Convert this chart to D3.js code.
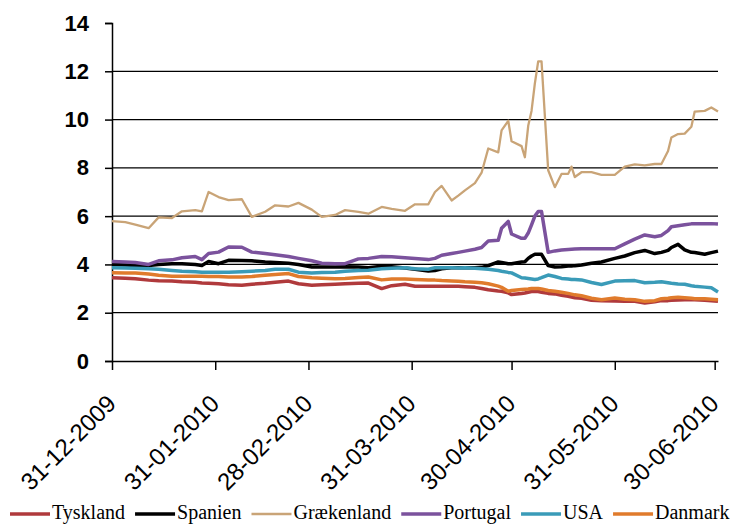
<!DOCTYPE html>
<html>
<head>
<meta charset="utf-8">
<script src="https://cdn.jsdelivr.net/npm/d3@7"></script>
<style>
  body { margin: 0; background: #fff; }
  svg { display: block; }
</style>
</head>
<body>
<svg id="chart"></svg>
<script>
// day offsets from 31-12-2009
const days = [0, 4, 7, 11, 14, 18, 21, 25, 27, 29, 32, 35, 39, 42, 46, 49, 53, 56, 60, 63,
  67, 70, 74, 77, 81, 84, 88, 91, 95, 97, 99, 102, 104, 106, 109, 111, 113, 116, 117, 119,
  120, 123, 124, 125, 126, 127, 128, 129, 131, 133, 135, 137, 138, 139, 141, 144, 147, 151, 154, 157,
  160, 163, 165, 167, 168, 170, 172, 174, 175, 178, 180, 182];

const tyskland = [3.45, 3.43, 3.41, 3.35, 3.32, 3.31, 3.28, 3.26, 3.23, 3.22, 3.2, 3.16, 3.14, 3.18, 3.22, 3.26, 3.31, 3.2, 3.14, 3.16,
  3.18, 3.2, 3.22, 3.23, 3.0, 3.12, 3.18, 3.1, 3.1, 3.1, 3.1, 3.1, 3.1, 3.08, 3.05, 3.0, 2.95, 2.9, 2.89, 2.82,
  2.75, 2.8, 2.82, 2.85, 2.88, 2.89, 2.88, 2.85, 2.8, 2.78, 2.72, 2.68, 2.65, 2.62, 2.6, 2.52, 2.5, 2.49, 2.48, 2.47,
  2.4, 2.45, 2.5, 2.5, 2.52, 2.53, 2.54, 2.54, 2.54, 2.52, 2.5, 2.47];

const spanien = [4.0, 3.98, 3.96, 3.96, 4.0, 4.03, 4.03, 4.0, 3.96, 4.12, 4.03, 4.17, 4.16, 4.15, 4.1, 4.08, 4.05, 4.0, 3.89, 3.89,
  3.89, 3.9, 3.89, 3.86, 3.92, 3.9, 3.85, 3.8, 3.73, 3.75, 3.82, 3.86, 3.86, 3.86, 3.86, 3.88, 3.95, 4.1, 4.08, 4.03,
  4.03, 4.1, 4.11, 4.25, 4.35, 4.42, 4.42, 4.42, 3.95, 3.89, 3.9, 3.93, 3.93, 3.95, 3.98, 4.05, 4.1, 4.25, 4.35, 4.49,
  4.58, 4.45, 4.5, 4.58, 4.7, 4.83, 4.6, 4.5, 4.49, 4.42, 4.49, 4.55];

const graekenland = [5.79, 5.75, 5.65, 5.5, 5.95, 5.92, 6.2, 6.25, 6.2, 7.0, 6.79, 6.66, 6.7, 5.97, 6.18, 6.45, 6.4, 6.55, 6.27, 5.97,
  6.05, 6.25, 6.18, 6.1, 6.38, 6.3, 6.22, 6.49, 6.49, 7.0, 7.25, 6.65, 6.85, 7.07, 7.37, 7.8, 8.8, 8.64, 9.55, 9.95,
  9.1, 8.9, 8.44, 9.74, 10.36, 11.5, 12.41, 12.41, 7.9, 7.2, 7.75, 7.75, 8.05, 7.62, 7.82, 7.82, 7.71, 7.71, 8.05, 8.14,
  8.1, 8.16, 8.16, 8.7, 9.26, 9.4, 9.42, 9.7, 10.33, 10.36, 10.5, 10.33];

const portugal = [4.12, 4.1, 4.08, 4.0, 4.15, 4.19, 4.28, 4.33, 4.2, 4.45, 4.51, 4.72, 4.71, 4.51, 4.45, 4.4, 4.33, 4.25, 4.15, 4.05,
  4.03, 4.03, 4.23, 4.25, 4.33, 4.32, 4.28, 4.25, 4.2, 4.25, 4.38, 4.45, 4.5, 4.55, 4.63, 4.7, 4.97, 5.0, 5.5, 5.78,
  5.26, 5.08, 5.08, 5.3, 5.64, 6.0, 6.19, 6.19, 4.5, 4.56, 4.6, 4.62, 4.63, 4.64, 4.65, 4.65, 4.65, 4.65, 4.85, 5.05,
  5.22, 5.15, 5.2, 5.4, 5.56, 5.6, 5.64, 5.68, 5.69, 5.69, 5.69, 5.67];

const usa = [3.86, 3.85, 3.84, 3.82, 3.8, 3.75, 3.72, 3.7, 3.68, 3.68, 3.68, 3.68, 3.7, 3.72, 3.75, 3.8, 3.8, 3.68, 3.65, 3.67,
  3.68, 3.72, 3.75, 3.76, 3.82, 3.84, 3.86, 3.82, 3.8, 3.86, 3.86, 3.86, 3.85, 3.86, 3.84, 3.82, 3.8, 3.75, 3.72, 3.67,
  3.65, 3.45, 3.44, 3.42, 3.4, 3.38, 3.4, 3.45, 3.56, 3.5, 3.42, 3.4, 3.38, 3.38, 3.36, 3.25, 3.17, 3.31, 3.32, 3.33,
  3.24, 3.26, 3.28, 3.24, 3.22, 3.19, 3.18, 3.12, 3.1, 3.06, 3.03, 2.86];

const danmark = [3.66, 3.65, 3.64, 3.6, 3.55, 3.51, 3.51, 3.51, 3.51, 3.5, 3.5, 3.48, 3.48, 3.5, 3.55, 3.58, 3.62, 3.5, 3.45, 3.43,
  3.41, 3.42, 3.46, 3.48, 3.36, 3.4, 3.4, 3.38, 3.36, 3.35, 3.33, 3.31, 3.3, 3.28, 3.26, 3.24, 3.2, 3.1, 3.05, 2.89,
  2.92, 2.96, 2.97, 2.98, 3.0, 3.0, 3.0, 2.98, 2.92, 2.89, 2.85, 2.8, 2.77, 2.74, 2.7, 2.6, 2.54, 2.61, 2.56, 2.54,
  2.47, 2.5, 2.58, 2.6, 2.62, 2.64, 2.62, 2.6, 2.58, 2.58, 2.56, 2.54];

const seriesNames = ['Tyskland', 'Spanien', 'Grækenland', 'Portugal', 'USA', 'Danmark'];
const seriesValues = [tyskland, spanien, graekenland, portugal, usa, danmark];
const seriesColors = ['#b03a3c', '#000000', '#c9a477', '#7b529d', '#3a9bb8', '#e07b2c'];
const seriesWidths = [3.5, 3.5, 2.3, 3.5, 3.5, 3.5];

const tickDates = ['31-12-2009', '31-01-2010', '28-02-2010', '31-03-2010', '30-04-2010', '31-05-2010', '30-06-2010'];
const yTicks = [0, 2, 4, 6, 8, 10, 12, 14];

const width = 736, height = 524;
const margin = {top: 23, right: 18, bottom: 163, left: 112};
const innerW = width - margin.left - margin.right;
const innerH = height - margin.top - margin.bottom;

const parse = d3.timeParse('%d-%m-%Y');
const start = parse('31-12-2009');
const dates = days.map(d => d3.timeDay.offset(start, d));

const svg = d3.select('#chart').attr('width', width).attr('height', height);
const chart = svg.append('g').attr('transform', `translate(${margin.left},${margin.top})`);

const xscale = d3.scaleTime()
  .domain([start, d3.timeDay.offset(start, 182)])
  .range([0, innerW]);
const yscale = d3.scaleLinear().domain([0, 14]).range([innerH, 0]);

// gridlines
chart.append('g')
  .selectAll('line')
  .data(yTicks.filter(v => v > 0 && v < 14))
  .join('line')
  .attr('x1', 0).attr('x2', innerW)
  .attr('y1', d => yscale(d)).attr('y2', d => yscale(d))
  .attr('stroke', '#000').attr('stroke-width', 1.3);

// y axis
const yaxis = d3.axisLeft(yscale).tickValues(yTicks).tickSize(7).tickPadding(16);
const yg = chart.append('g').call(yaxis);
yg.select('.domain').attr('stroke-width', 1.5);
yg.selectAll('.tick line').attr('stroke-width', 1.5);
yg.selectAll('.tick text')
  .style('font-family', 'Liberation Sans, Arial, sans-serif')
  .style('font-size', '22px').style('font-weight', 'bold').attr('fill', '#000');

// x axis
const xaxis = d3.axisBottom(xscale)
  .tickValues(tickDates.map(parse))
  .tickSize(9)
  .tickSizeOuter(0)
  .tickFormat(d3.timeFormat('%d-%m-%Y'));
const xg = chart.append('g').attr('transform', `translate(0,${innerH})`).call(xaxis);
xg.select('.domain').attr('stroke-width', 1.5);
xg.selectAll('.tick line').attr('stroke-width', 1.5);
xg.selectAll('.tick text')
  .style('font-family', 'Liberation Sans, Arial, sans-serif')
  .style('font-size', '24px').attr('fill', '#000')
  .attr('text-anchor', 'end')
  .attr('y', 0).attr('dy', 0)
  .attr('transform', 'translate(5,44) rotate(-45)');

// lines
const line = d3.line()
  .x((d, i) => xscale(dates[i]))
  .y(d => yscale(d));

chart.append('g')
  .selectAll('path')
  .data(seriesValues)
  .join('path')
  .attr('d', d => line(d))
  .attr('fill', 'none')
  .attr('stroke', (d, i) => seriesColors[i])
  .attr('stroke-width', (d, i) => seriesWidths[i])
  .attr('stroke-linejoin', 'round');

// legend (kept just inside the bottom edge)
const legend = svg.append('g').attr('transform', 'translate(10,514)');
let lx = 0;
seriesNames.forEach((name, i) => {
  legend.append('line')
    .attr('x1', lx).attr('x2', lx + 40)
    .attr('y1', 0).attr('y2', 0)
    .attr('stroke', seriesColors[i])
    .attr('stroke-width', i === 2 ? 2.3 : 3.5);
  const t = legend.append('text')
    .attr('x', lx + 42).attr('y', 5)
    .style('font-family', 'Liberation Serif, Times New Roman, serif')
    .style('font-size', '20px')
    .attr('fill', '#000')
    .text(name);
  lx += 42 + t.node().getComputedTextLength() + 10;
});
</script>
</body>
</html>
